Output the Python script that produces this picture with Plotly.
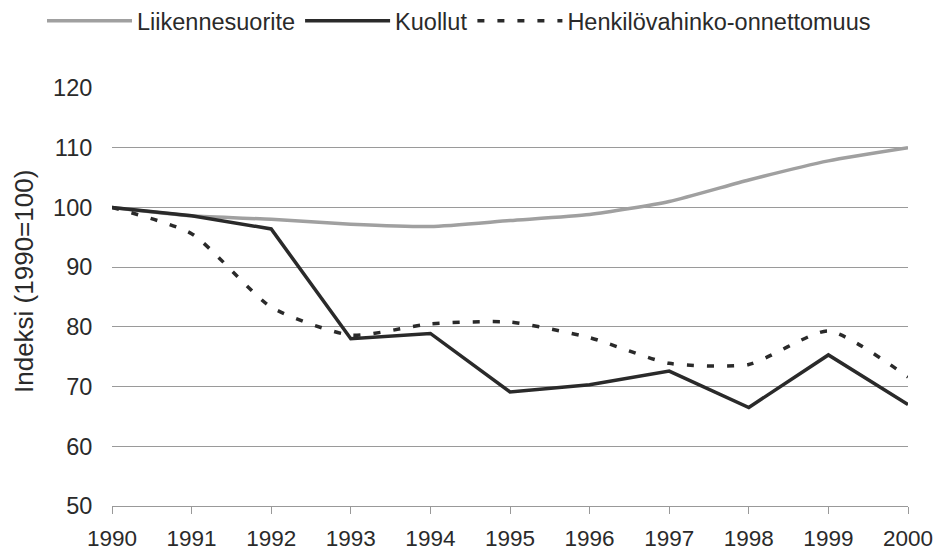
import plotly.graph_objects as go

years = [1990, 1991, 1992, 1993, 1994, 1995, 1996, 1997, 1998, 1999, 2000]
liikennesuorite = [100, 98.6, 98.0, 97.2, 96.8, 97.8, 98.8, 101.0, 104.6, 107.8, 110.0]
kuollut = [100, 98.6, 96.4, 78.0, 78.9, 69.1, 70.3, 72.6, 66.5, 75.3, 67.0]
henkilovahinko = [100, 95.6, 83.3, 78.6, 80.5, 80.8, 78.2, 73.9, 73.7, 79.3, 71.6]
y_ticks = [50, 60, 70, 80, 90, 100, 110, 120]
y_title = "Indeksi (1990=100)"

W, H = 945, 555
OFF = 8  # page body offset
ML, MT = 112 - OFF, 88 - OFF
MR = W - (908 - OFF)
MB = H - (506 - OFF)
PW, PH = W - ML - MR, H - MT - MB

fig = go.Figure()
fig.add_trace(go.Scatter(x=years, y=liikennesuorite, name="Liikennesuorite", mode="lines",
                         line=dict(color="#a0a0a0", width=3.5, shape="spline", smoothing=0.6)))
fig.add_trace(go.Scatter(x=years, y=kuollut, name="Kuollut", mode="lines",
                         line=dict(color="#2a2a2a", width=3.5)))
fig.add_trace(go.Scatter(x=years, y=henkilovahinko, name="Henkilövahinko-onnettomuus", mode="lines",
                         line=dict(color="#2a2a2a", width=3.5, dash="7px,13px", shape="spline", smoothing=0.6)))

fig.update_layout(
    width=W, height=H,
    margin=dict(l=ML, r=MR, t=MT, b=MB, autoexpand=False),
    paper_bgcolor="white", plot_bgcolor="white",
    font=dict(family="Liberation Sans, Arial, sans-serif", size=23, color="#2a2a2a"),
    showlegend=True,
    legend=dict(orientation="h", x=(34 - ML) / PW, xref="paper", y=1 + (MT + 9) / PH, yref="paper",
                yanchor="top", xanchor="left", font=dict(size=23.5),
                itemwidth=85, tracegroupgap=0, bgcolor="rgba(0,0,0,0)"),
    xaxis=dict(range=[1990, 2000], tickvals=years, ticktext=[str(y) for y in years],
               showgrid=False, showline=True, linecolor="#999999", linewidth=1,
               ticks="outside", ticklen=7, tickcolor="#999999", zeroline=False,
               tickfont=dict(size=22.5), ticklabelstandoff=5),
    yaxis=dict(range=[50, 120], tickvals=y_ticks, showgrid=True, gridcolor="#9a9a9a", gridwidth=1,
               showline=False, ticks="outside", ticklen=14, tickcolor="rgba(0,0,0,0)", zeroline=False,
               tickfont=dict(size=23.5)),
    annotations=[dict(text=y_title, textangle=-90, xref="paper", yref="paper",
                      x=(24 - OFF - ML) / PW, y=(H - MB - (282 - OFF)) / PH,
                      xanchor="center", yanchor="middle", showarrow=False,
                      font=dict(size=26, color="#2a2a2a"))],
)

fig.write_html("out.html")
